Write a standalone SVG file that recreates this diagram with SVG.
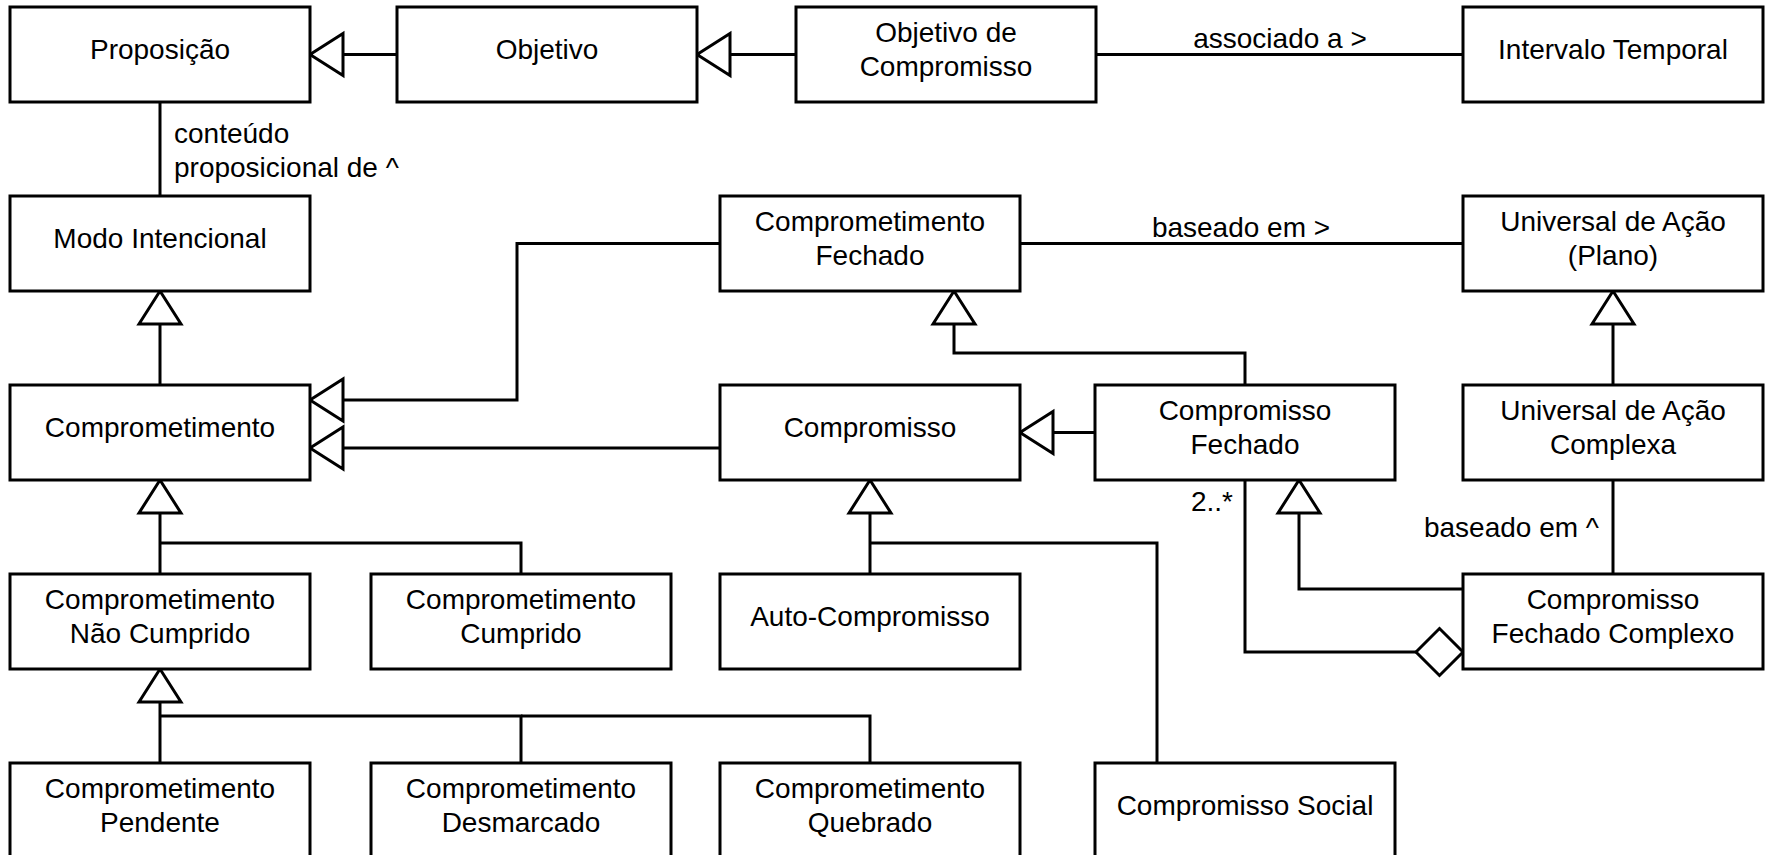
<svg xmlns="http://www.w3.org/2000/svg" width="1765" height="855" viewBox="0 0 1765 855">
<style>
.box{fill:#fff;stroke:#000;stroke-width:3}
.t{font-family:"Liberation Sans",Arial,sans-serif;font-size:28px;fill:#000;text-anchor:middle}
.l{font-family:"Liberation Sans",Arial,sans-serif;font-size:28px;fill:#000}
.c{fill:none;stroke:#000;stroke-width:3}
.g{marker-end:url(#gen)}
</style>
<defs>
<marker id="gen" markerUnits="userSpaceOnUse" markerWidth="40" markerHeight="50" refX="33" refY="21" orient="auto" overflow="visible">
<path d="M0,0 L33,21 L0,42 Z" fill="#fff" stroke="#000" stroke-width="3"/>
</marker>
<marker id="agg" markerUnits="userSpaceOnUse" markerWidth="50" markerHeight="50" refX="47" refY="23.5" orient="auto" overflow="visible">
<path d="M0,23.5 L23.5,0 L47,23.5 L23.5,47 Z" fill="#fff" stroke="#000" stroke-width="3"/>
</marker>
</defs>
<rect width="1765" height="855" fill="#fff"/>
<g id="connectors">
<path class="c g" d="M397,54.5 H310"/>
<path class="c g" d="M796,54.5 H697"/>
<path class="c" d="M1096,54.5 H1463"/>
<path class="c" d="M160,102 V196"/>
<path class="c g" d="M160,385 V291"/>
<path class="c g" d="M720,243.5 H517 V400 H310"/>
<path class="c g" d="M720,448 H310"/>
<path class="c" d="M1020,243.5 H1463"/>
<path class="c g" d="M1245,385 V353 H954 V291"/>
<path class="c g" d="M1095,432.5 H1020"/>
<path class="c g" d="M1613,385 V291"/>
<path class="c g" d="M160,574 V480"/>
<path class="c" d="M521,574 V543 H160"/>
<path class="c g" d="M870,574 V480"/>
<path class="c" d="M1157,763 V543 H870"/>
<path class="c g" d="M160,763 V669"/>
<path class="c" d="M521,763 V716 H160"/>
<path class="c" d="M870,763 V716 H521"/>
<path class="c g" d="M1463,589 H1299 V480"/>
<path class="c" d="M1245,480 V652 H1463" marker-end="url(#agg)"/>
<path class="c" d="M1613,480 V574"/>
<text class="l" x="174" y="143">conteúdo</text>
<text class="l" x="174" y="177">proposicional de ^</text>
<text class="t" x="1280" y="48">associado a &gt;</text>
<text class="t" x="1241" y="237">baseado em &gt;</text>
<text class="l" x="1233" y="511" text-anchor="end">2..*</text>
<text class="l" x="1599" y="537" text-anchor="end">baseado em ^</text>
</g>
<g id="proposicao"><rect class="box" x="10" y="7" width="300" height="95"/><text class="t" x="160" y="59">Proposição</text></g>
<g id="objetivo"><rect class="box" x="397" y="7" width="300" height="95"/><text class="t" x="547" y="59">Objetivo</text></g>
<g id="objetivo-compromisso"><rect class="box" x="796" y="7" width="300" height="95"/><text class="t" x="946" y="42">Objetivo de</text><text class="t" x="946" y="76">Compromisso</text></g>
<g id="intervalo-temporal"><rect class="box" x="1463" y="7" width="300" height="95"/><text class="t" x="1613" y="59">Intervalo Temporal</text></g>
<g id="modo-intencional"><rect class="box" x="10" y="196" width="300" height="95"/><text class="t" x="160" y="248">Modo Intencional</text></g>
<g id="comprometimento-fechado"><rect class="box" x="720" y="196" width="300" height="95"/><text class="t" x="870" y="231">Comprometimento</text><text class="t" x="870" y="265">Fechado</text></g>
<g id="universal-acao-plano"><rect class="box" x="1463" y="196" width="300" height="95"/><text class="t" x="1613" y="231">Universal de Ação</text><text class="t" x="1613" y="265">(Plano)</text></g>
<g id="comprometimento"><rect class="box" x="10" y="385" width="300" height="95"/><text class="t" x="160" y="437">Comprometimento</text></g>
<g id="compromisso"><rect class="box" x="720" y="385" width="300" height="95"/><text class="t" x="870" y="437">Compromisso</text></g>
<g id="compromisso-fechado"><rect class="box" x="1095" y="385" width="300" height="95"/><text class="t" x="1245" y="420">Compromisso</text><text class="t" x="1245" y="454">Fechado</text></g>
<g id="universal-acao-complexa"><rect class="box" x="1463" y="385" width="300" height="95"/><text class="t" x="1613" y="420">Universal de Ação</text><text class="t" x="1613" y="454">Complexa</text></g>
<g id="comprometimento-nao-cumprido"><rect class="box" x="10" y="574" width="300" height="95"/><text class="t" x="160" y="609">Comprometimento</text><text class="t" x="160" y="643">Não Cumprido</text></g>
<g id="comprometimento-cumprido"><rect class="box" x="371" y="574" width="300" height="95"/><text class="t" x="521" y="609">Comprometimento</text><text class="t" x="521" y="643">Cumprido</text></g>
<g id="auto-compromisso"><rect class="box" x="720" y="574" width="300" height="95"/><text class="t" x="870" y="626">Auto-Compromisso</text></g>
<g id="compromisso-fechado-complexo"><rect class="box" x="1463" y="574" width="300" height="95"/><text class="t" x="1613" y="609">Compromisso</text><text class="t" x="1613" y="643">Fechado Complexo</text></g>
<g id="comprometimento-pendente"><rect class="box" x="10" y="763" width="300" height="95"/><text class="t" x="160" y="798">Comprometimento</text><text class="t" x="160" y="832">Pendente</text></g>
<g id="comprometimento-desmarcado"><rect class="box" x="371" y="763" width="300" height="95"/><text class="t" x="521" y="798">Comprometimento</text><text class="t" x="521" y="832">Desmarcado</text></g>
<g id="comprometimento-quebrado"><rect class="box" x="720" y="763" width="300" height="95"/><text class="t" x="870" y="798">Comprometimento</text><text class="t" x="870" y="832">Quebrado</text></g>
<g id="compromisso-social"><rect class="box" x="1095" y="763" width="300" height="95"/><text class="t" x="1245" y="815">Compromisso Social</text></g>
</svg>
